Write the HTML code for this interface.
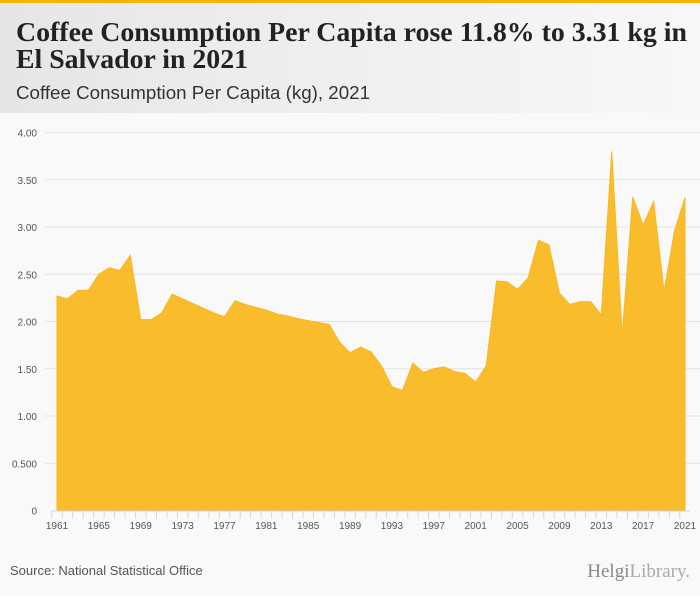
<!DOCTYPE html>
<html><head><meta charset="utf-8"><style>
body{margin:0;width:700px;height:596px;background:#f9f9f9;font-family:"Liberation Sans",sans-serif;overflow:hidden;position:relative}
#topbar{position:absolute;left:0;top:0;width:700px;height:3px;background:#f7b500}
#header{position:absolute;left:0;top:3px;width:700px;height:110px;background:linear-gradient(90deg,#e6e6e6,#f8f8f8)}
#source{position:absolute;left:10px;top:563px;font-size:13px;color:#555}
#logo{position:absolute;right:10px;top:561px;font-family:"Liberation Serif",serif;font-size:19px;color:#888}
svg{position:absolute;left:0;top:0}
</style></head><body>
<div id="topbar"></div>
<div id="header"></div>
<svg id="heading" width="700" height="113">
<text x="16" y="41" textLength="671" lengthAdjust="spacingAndGlyphs" font-family="Liberation Serif, serif" font-weight="bold" font-size="27" fill="#222">Coffee Consumption Per Capita rose 11.8% to 3.31 kg in</text>
<text x="16" y="68" textLength="232" lengthAdjust="spacingAndGlyphs" font-family="Liberation Serif, serif" font-weight="bold" font-size="27" fill="#222">El Salvador in 2021</text>
<text x="16" y="99" textLength="354" lengthAdjust="spacingAndGlyphs" font-family="Liberation Sans, sans-serif" font-size="18" fill="#333">Coffee Consumption Per Capita (kg), 2021</text>
</svg>
<svg id="chart" width="700" height="596"></svg>
<div id="source">Source: National Statistical Office</div>
<div id="logo">Helgi<span style="color:#aaa">Library.</span></div>
<script>
const years=[];for(let y=1961;y<=2021;y++)years.push(y);
const values=[2.27,2.24,2.33,2.33,2.50,2.57,2.54,2.70,2.02,2.02,2.09,2.29,2.24,2.19,2.14,2.09,2.05,2.22,2.18,2.15,2.12,2.08,2.06,2.03,2.01,1.99,1.97,1.78,1.67,1.73,1.68,1.53,1.31,1.27,1.56,1.46,1.50,1.52,1.47,1.45,1.36,1.53,2.43,2.42,2.34,2.46,2.86,2.81,2.30,2.18,2.21,2.21,2.07,3.80,1.85,3.32,3.02,3.27,2.32,2.96,3.31];
const yTicks=[0,0.5,1,1.5,2,2.5,3,3.5,4];
const yTickLabels=["0","0.500","1.00","1.50","2.00","2.50","3.00","3.50","4.00"];
const xLabelYears=[1961,1965,1969,1973,1977,1981,1985,1989,1993,1997,2001,2005,2009,2013,2017,2021];
const NS="http://www.w3.org/2000/svg";
const svg=document.getElementById('chart');
const X0=57,X1=685,Y0=510.5,YS=94.5;
const xs=y=>X0+(y-1961)*(X1-X0)/60;
const ys=v=>Y0-v*YS;
function mk(t,a){const e=document.createElementNS(NS,t);for(const k in a)e.setAttribute(k,a[k]);svg.appendChild(e);return e;}
yTicks.forEach((v,i)=>{
 if(v>0){const l=mk('line',{x1:45,x2:700,y1:ys(v),y2:ys(v),stroke:'#e2e2e2','stroke-width':1});
 
 }
 const t=mk('text',{x:37,y:ys(v)+4,'text-anchor':'end','font-size':10,fill:'#555','font-family':'Liberation Sans, sans-serif'});
 t.textContent=yTickLabels[i];
 
 
});
let d='M'+xs(years[0])+','+Y0;
years.forEach((y,i)=>{d+=' L'+xs(y)+','+ys(values[i]);});
d+=' L'+xs(years[years.length-1])+','+Y0+' Z';
const area=mk('path',{d:d,fill:'#f9bc2d',stroke:'#f9b821','stroke-width':1});


const ax=mk('line',{x1:52,x2:690,y1:Y0+0.5,y2:Y0+0.5,stroke:'#ccd6eb','stroke-width':1});


years.forEach(y=>{
 const tk=mk('line',{x1:xs(y)-5.2,x2:xs(y)-5.2,y1:Y0,y2:Y0+8,stroke:'#ccd6eb','stroke-width':1});
 
 
});
xLabelYears.forEach(y=>{
 const t=mk('text',{x:xs(y),y:529,'text-anchor':'middle','font-size':10,fill:'#555','font-family':'Liberation Sans, sans-serif'});
 t.textContent=y;
 
 
});
</script>
</body></html>
